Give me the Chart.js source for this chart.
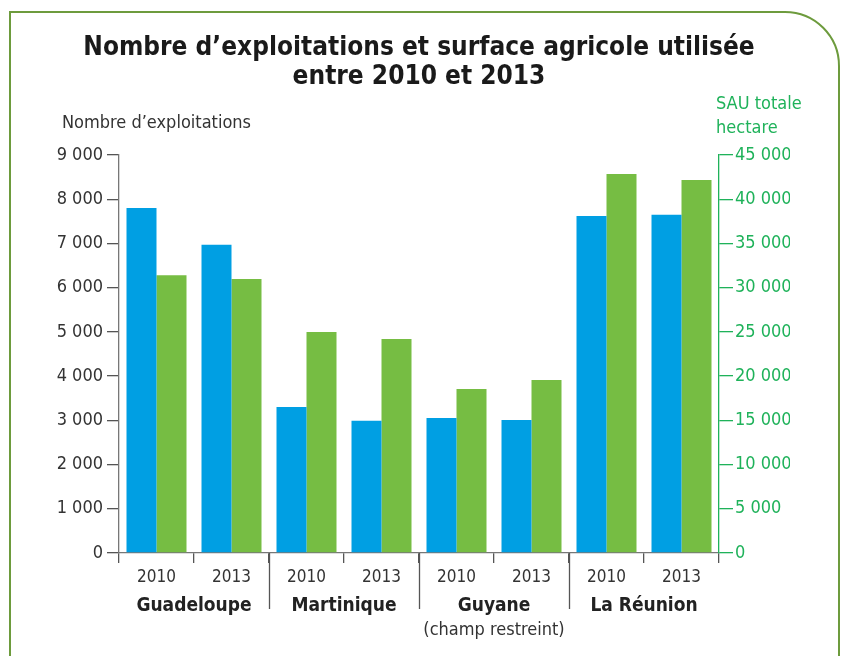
<!DOCTYPE html>
<html lang="fr">
<head>
<meta charset="utf-8">
<title>Nombre d'exploitations et surface agricole utilisée</title>
<script src="https://cdn.jsdelivr.net/npm/chart.js"></script>
<style>
    html, body { margin: 0; padding: 0; background: #fff; }
    #wrap { position: relative; width: 842px; height: 656px; overflow: hidden; }
    #frame {
        position: absolute; left: 9px; top: 11px; width: 827px; height: 700px;
        border: 2.5px solid #6d9b3d; border-top-right-radius: 55px;
        pointer-events: none;
    }
</style>
</head>
<body>
<div id="wrap">
    <canvas id="chart" width="842" height="656"></canvas>
    <div id="frame"></div>
</div>
<script>
const categories = ['2010', '2013', '2010', '2013', '2010', '2013', '2010', '2013'];
const regions = ['Guadeloupe', 'Martinique', 'Guyane', 'La Réunion'];
const regionNotes = ['', '', '(champ restreint)', ''];
const exploitations = [7800, 6970, 3300, 2990, 3050, 3010, 7620, 7650];
const sauHectares = [31400, 30980, 25000, 24200, 18540, 19560, 42850, 42170];

const BLUE = '#009fe3';
const GREEN = '#76bd43';
const AXIS_GREEN = '#1fb25a';
const TEXT = '#333333';
const NARROW = "'Liberation Sans Narrow', 'DejaVu Sans Condensed', Roboto, sans-serif";

function spaced(v) {
    return String(v).replace(/\B(?=(\d{3})+(?!\d))/g, ' ');
}

// axis headers and the long separators between regions
const extras = {
    id: 'extras',
    afterDraw(chart) {
        const ctx = chart.ctx;
        const x = chart.scales.x;
        const y1 = chart.scales.y1;
        ctx.save();
        ctx.strokeStyle = '#555';
        ctx.lineWidth = 1.3;
        [2, 4, 6].forEach(i => {
            const px = Math.round((x.getPixelForValue(i - 1) + x.getPixelForValue(i)) / 2) + 0.5;
            ctx.beginPath();
            ctx.moveTo(px, chart.chartArea.bottom);
            ctx.lineTo(px, chart.chartArea.bottom + 56);
            ctx.stroke();
        });
        ctx.font = '18px ' + NARROW;
        ctx.textBaseline = 'middle';
        ctx.textAlign = 'left';
        ctx.fillStyle = TEXT;
        ctx.fillText('Nombre d\u2019exploitations', 62, chart.chartArea.top - 32);
        ctx.fillStyle = AXIS_GREEN;
        ctx.fillText('SAU totale', y1.left - 3, chart.chartArea.top - 51);
        ctx.fillText('hectare', y1.left - 3, chart.chartArea.top - 27);
        ctx.restore();
    }
};

new Chart(document.getElementById('chart'), {
    type: 'bar',
    data: {
        labels: categories,
        datasets: [{
            label: 'Nombre d\u2019exploitations',
            data: exploitations,
            backgroundColor: BLUE,
            yAxisID: 'y',
            categoryPercentage: 0.8,
            barPercentage: 1.0
        }, {
            label: 'SAU totale (hectare)',
            data: sauHectares,
            backgroundColor: GREEN,
            yAxisID: 'y1',
            categoryPercentage: 0.8,
            barPercentage: 1.0
        }]
    },
    options: {
        responsive: false,
        animation: false,
        layout: { padding: { left: 48, right: 52, top: 0, bottom: 7 } },
        plugins: {
            legend: { display: false },
            tooltip: { enabled: false },
            title: {
                display: true,
                text: ['Nombre d\u2019exploitations et surface agricole utilisée', 'entre 2010 et 2013'],
                color: '#1a1a1a',
                font: { family: NARROW, size: 26, weight: 'bold', lineHeight: 1.14 },
                padding: { top: 33, bottom: 62.7 }
            }
        },
        scales: {
            x: {
                position: 'bottom',
                grid: { offset: true, drawOnChartArea: false, tickLength: 10, color: '#555', lineWidth: 1.3 },
                border: { display: true, color: '#777', width: 1.3 },
                ticks: { color: TEXT, font: { family: NARROW, size: 17 }, padding: 4, maxRotation: 0, autoSkip: false },
                afterFit(scale) { scale.height = 30; }
            },
            xg: {
                type: 'category',
                position: 'bottom',
                labels: regions,
                offset: true,
                grid: { display: false, drawTicks: false },
                border: { display: false },
                ticks: { color: '#222', font: { family: NARROW, size: 19, weight: 'bold' }, padding: 12, maxRotation: 0, autoSkip: false },
                afterFit(scale) { scale.height = 36; }
            },
            xn: {
                type: 'category',
                position: 'bottom',
                labels: regionNotes,
                offset: true,
                grid: { display: false, drawTicks: false },
                border: { display: false },
                ticks: { color: TEXT, font: { family: NARROW, size: 18 }, padding: 1, maxRotation: 0, autoSkip: false },
                afterFit(scale) { scale.height = 30; }
            },
            y: {
                position: 'left',
                min: 0,
                max: 9000,
                ticks: { stepSize: 1000, color: TEXT, font: { family: NARROW, size: 18 }, padding: 4, callback: v => spaced(v) },
                grid: { drawOnChartArea: false, tickLength: 12, color: '#555', lineWidth: 1.3 },
                border: { display: true, color: '#777', width: 1.3 },
                afterFit(scale) { scale.width = 71; }
            },
            y1: {
                position: 'right',
                min: 0,
                max: 45000,
                ticks: { stepSize: 5000, color: AXIS_GREEN, font: { family: NARROW, size: 18 }, padding: 2, callback: v => spaced(v) },
                grid: { drawOnChartArea: false, tickLength: 14, color: AXIS_GREEN, lineWidth: 1.3 },
                border: { display: true, color: AXIS_GREEN, width: 1.3 },
                afterFit(scale) { scale.width = 71; }
            }
        }
    },
    plugins: [extras]
});
</script>
</body>
</html>
